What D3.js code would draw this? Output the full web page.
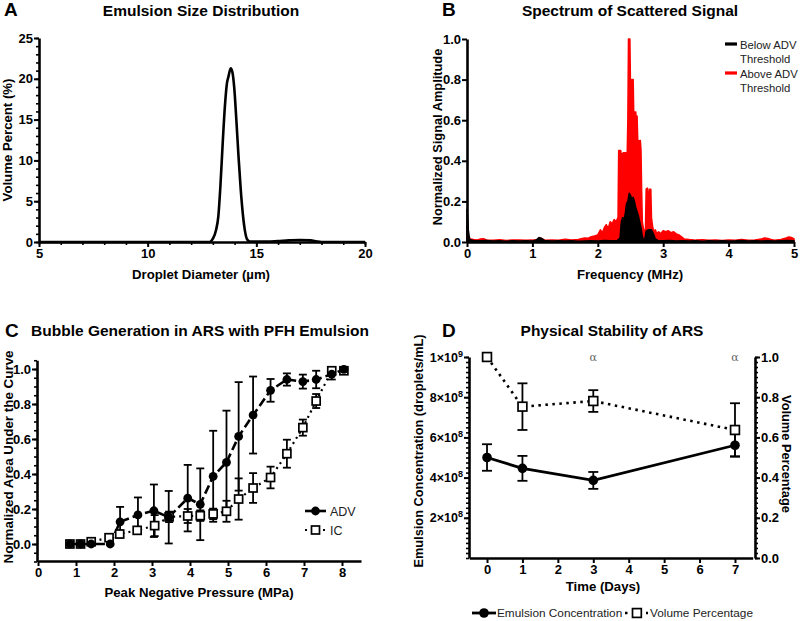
<!DOCTYPE html>
<html><head><meta charset="utf-8">
<script src="https://cdn.jsdelivr.net/npm/d3@7"></script>
<style>body{margin:0;background:#fff} svg{font-family:"Liberation Sans",Arial,Helvetica,sans-serif}</style>
</head><body><svg width="800" height="621"></svg>
<script>
// ---------- DATA ----------
// Panel A: emulsion size distribution
const sizeDiameter = [5,12.85,13.0,13.15,13.25,13.35,13.45,13.55,13.65,13.72,13.82,13.9,13.98,14.08,14.18,14.28,14.38,14.48,14.58,14.7,15.5,16.0,16.5,17.0,17.5,17.8,18.0,20];
const sizeVolume   = [0,0,0.4,1.5,3.1,7,12,16.5,19.5,20.3,21.3,20.8,19,15,10.5,6.5,3.4,1.3,0.3,0.05,0.05,0.12,0.2,0.25,0.2,0.05,0,0];
const sizeXTicks = [5,10,15,20];
const sizeYTicks = [0,5,10,15,20,25];

// Panel B: spectrum [frequency MHz, normalized amplitude]
const spectrumAbove = [[0,0.08],[0.02,0.03],[0.05,0.015],[0.1,0.012],[0.15,0.01],[0.2,0.014],[0.25,0.016],[0.3,0.01],[0.4,0.008],[0.5,0.011],[0.6,0.007],[0.7,0.01],[0.8,0.009],[0.9,0.008],[1.0,0.009],[1.08,0.012],[1.12,0.02],[1.16,0.014],[1.2,0.008],[1.3,0.01],[1.4,0.008],[1.5,0.013],[1.6,0.01],[1.7,0.012],[1.75,0.016],[1.8,0.02],[1.85,0.018],[1.9,0.026],[1.95,0.03],[2.0,0.035],[2.04,0.06],[2.07,0.045],[2.1,0.07],[2.13,0.085],[2.16,0.065],[2.19,0.1],[2.22,0.09],[2.25,0.11],[2.28,0.1],[2.31,0.12],[2.32,0.45],[2.35,0.45],[2.36,0.42],[2.37,0.43],[2.39,0.44],[2.41,0.44],[2.42,0.42],[2.43,0.44],[2.45,0.43],[2.46,0.6],[2.47,1.0],[2.49,1.0],[2.5,0.75],[2.51,0.78],[2.52,0.8],[2.54,0.8],[2.55,0.62],[2.56,0.64],[2.58,0.64],[2.59,0.55],[2.6,0.62],[2.61,0.5],[2.63,0.5],[2.64,0.49],[2.65,0.5],[2.66,0.45],[2.67,0.25],[2.68,0.1],[2.7,0.06],[2.72,0.05],[2.73,0.07],[2.74,0.26],[2.76,0.265],[2.77,0.18],[2.78,0.22],[2.79,0.26],[2.81,0.26],[2.82,0.12],[2.84,0.07],[2.86,0.05],[2.88,0.06],[2.9,0.04],[2.93,0.05],[2.96,0.04],[3.0,0.055],[3.04,0.05],[3.08,0.055],[3.12,0.045],[3.16,0.05],[3.2,0.04],[3.24,0.035],[3.28,0.025],[3.32,0.015],[3.4,0.012],[3.5,0.009],[3.6,0.011],[3.7,0.008],[3.8,0.01],[3.9,0.007],[4.0,0.009],[4.1,0.008],[4.2,0.012],[4.3,0.008],[4.4,0.01],[4.5,0.014],[4.55,0.02],[4.6,0.017],[4.65,0.012],[4.7,0.009],[4.8,0.012],[4.88,0.02],[4.92,0.025],[4.96,0.022],[5.0,0.015]];
const spectrumBelow = [[0,0.16],[0.01,0.12],[0.02,0.06],[0.04,0.012],[0.1,0.008],[0.2,0.006],[0.3,0.007],[0.4,0.005],[0.5,0.006],[0.6,0.004],[0.7,0.006],[0.8,0.005],[0.9,0.006],[1.0,0.005],[1.06,0.01],[1.1,0.022],[1.14,0.018],[1.18,0.008],[1.3,0.005],[1.4,0.006],[1.5,0.005],[1.6,0.006],[1.7,0.004],[1.8,0.005],[1.9,0.006],[2.0,0.005],[2.1,0.007],[2.2,0.006],[2.3,0.008],[2.34,0.02],[2.36,0.1],[2.38,0.12],[2.4,0.11],[2.42,0.14],[2.44,0.19],[2.46,0.2],[2.48,0.24],[2.5,0.23],[2.52,0.21],[2.54,0.22],[2.56,0.2],[2.58,0.17],[2.6,0.15],[2.62,0.13],[2.64,0.1],[2.66,0.07],[2.68,0.03],[2.7,0.01],[2.72,0.015],[2.74,0.055],[2.78,0.06],[2.82,0.06],[2.85,0.04],[2.88,0.015],[2.92,0.008],[3.0,0.006],[3.1,0.007],[3.2,0.005],[3.3,0.006],[3.4,0.005],[3.5,0.006],[3.6,0.004],[3.7,0.006],[3.8,0.005],[3.9,0.006],[4.0,0.005],[4.1,0.006],[4.2,0.008],[4.3,0.005],[4.4,0.006],[4.5,0.005],[4.6,0.006],[4.7,0.005],[4.8,0.006],[4.9,0.007],[5.0,0.006]];
const spectrumXTicks = [0,1,2,3,4,5];
const spectrumYTicks = [0,0.2,0.4,0.6,0.8,1.0];
const spectrumLegend = [["Below ADV","Threshold"],["Above ADV","Threshold"]];

// Panel C: bubble generation
const advPressure = [0.84,1.12,1.4,1.9,2.16,2.63,3.05,3.44,3.94,4.27,4.61,4.96,5.28,5.66,6.12,6.55,6.97,7.32,7.73,8.05];
const advArea     = [0,0,0,0,0.127,0.166,0.19,0.153,0.262,0.227,0.387,0.467,0.615,0.737,0.878,0.94,0.928,0.94,0.97,0.998];
const advErr      = [0,0,0,0,0.085,0.1,0.15,0.15,0.19,0.205,0.26,0.295,0.31,0.22,0.065,0.035,0.04,0.05,0.03,0.01];
const icPressure  = [0.84,1.12,1.4,1.87,2.15,2.61,3.07,3.45,3.94,4.27,4.61,4.96,5.28,5.66,6.12,6.55,6.97,7.32,7.73,8.05];
const icArea      = [0,0,0.013,0.036,0.057,0.078,0.105,0.155,0.16,0.162,0.172,0.187,0.257,0.32,0.38,0.516,0.665,0.817,0.99,0.99];
const icErr       = [0,0,0.005,0.01,0.02,0.02,0.06,0.03,0.04,0.03,0.03,0.06,0.118,0.085,0.062,0.08,0.046,0.04,0.01,0.01];
const bubbleXTicks = [0,1,2,3,4,5,6,7,8];
const bubbleYTicks = [0,0.2,0.4,0.6,0.8,1.0];

// Panel D: physical stability
const stabilityDays = [0,1,3,7];
const concentration = [5.0e8,4.46e8,3.86e8,5.61e8];
const concentrationErr = [0.66e8,0.62e8,0.42e8,0.55e8];
const volumePct = [1.0,0.753,0.781,0.637];
const volumePctErr = [0,0.116,0.054,0.133];
const alphaDays = [3,7];
const stabilityXTicks = [0,1,2,3,4,5,6,7];
const concTicks = [2e8,4e8,6e8,8e8,1e9];
const volTicks = [0,0.2,0.4,0.6,0.8,1.0];

// ---------- DRAWING ----------
const svg = d3.select("svg");
const AXW = 2.6;
const TICKFS = 13;

function styleAxis(g, fs){
  g.select(".domain").attr("stroke","#000").attr("stroke-width",AXW);
  g.selectAll(".tick line").attr("stroke","#000").attr("stroke-width",2);
  g.selectAll(".tick text").attr("fill","#000").attr("font-weight","bold").attr("font-size",fs||TICKFS)
    .attr("font-family",'"Liberation Sans",Arial,sans-serif');
}
function axis(gen, scale, tr, major, fmt, minor, opts={}){
  const g = svg.append("g").attr("transform", tr);
  if (minor){
    const m = g.append("g").call(gen(scale).tickValues(minor).tickSize(opts.minorSize||3).tickFormat("").tickSizeOuter(0));
    m.select(".domain").remove();
    m.selectAll(".tick line").attr("stroke","#000").attr("stroke-width",1.6);
  }
  const a = g.append("g").call(gen(scale).tickValues(major).tickSize(opts.size||5).tickPadding(opts.pad==null?2:opts.pad).tickFormat(fmt).tickSizeOuter(0));
  styleAxis(a, opts.fs);
  return a;
}
function text(x,y,s,o={}){
  const t = svg.append("text").attr("x",x).attr("y",y).text(s)
    .attr("font-size",o.fs||12).attr("font-weight",o.fw||"bold").attr("fill",o.fill||"#000")
    .attr("text-anchor",o.anchor||"middle");
  if (o.rot!=null) t.attr("transform",`rotate(${o.rot},${x},${y})`);
  if (o.family) t.attr("font-family",o.family);
  return t;
}
const f1 = d3.format(".1f");
const TITLEFS = 15.5, LABFS = 13.2;

// ===== Panel A =====
{
  const x = d3.scaleLinear().domain([5,20]).range([39,365]);
  const y = d3.scaleLinear().domain([0,25]).range([242,38]);
  axis(d3.axisBottom, x, "translate(0,242)", sizeXTicks, d3.format("d"), d3.range(5,21,1), {size:5});
  axis(d3.axisLeft, y, "translate(39,0)", sizeYTicks, d3.format("d"), d3.range(0,26,1), {size:5,pad:1});
  const pts = sizeDiameter.map((d,i)=>[d,sizeVolume[i]]);
  svg.append("path").datum(pts).attr("fill","none").attr("stroke","#000").attr("stroke-width",2.6)
    .attr("stroke-linejoin","round")
    .attr("d", d3.line().x(d=>x(d[0])).y(d=>y(d[1])).curve(d3.curveMonotoneX));
  text(4,16,"A",{fs:19,anchor:"start"});
  text(201,16,"Emulsion Size Distribution",{fs:TITLEFS});
  text(201,279,"Droplet Diameter (µm)",{fs:LABFS});
  text(12,140,"Volume Percent (%)",{fs:LABFS,rot:-90});
}

// ===== Panel B =====
{
  const x = d3.scaleLinear().domain([0,5]).range([467,794]);
  const y = d3.scaleLinear().domain([0,1]).range([242,39]);
  const area = d3.area().x(d=>x(d[0])).y0(y(0)).y1(d=>y(d[1]));
  svg.append("path").datum(spectrumAbove).attr("fill","#ff0000").attr("stroke","#ff0000").attr("stroke-width",1.6)
    .attr("stroke-linejoin","round").attr("d",area);
  svg.append("path").datum(spectrumBelow).attr("fill","#000").attr("stroke","#000").attr("stroke-width",1.5)
    .attr("stroke-linejoin","round").attr("d",area);
  axis(d3.axisBottom, x, "translate(0,242)", spectrumXTicks, d3.format("d"), null, {size:5});
  axis(d3.axisLeft, y, "translate(467,0)", spectrumYTicks, f1, null, {size:5,pad:1});
  text(442,16,"B",{fs:19,anchor:"start"});
  text(630,16,"Spectrum of Scattered Signal",{fs:TITLEFS});
  text(630,279,"Frequency (MHz)",{fs:LABFS});
  text(442,137,"Normalized Signal Amplitude",{fs:12.8,rot:-90});
  const colors = ["#000","#ff0000"];
  spectrumLegend.forEach((lbl,i)=>{
    const yy = 44 + i*29;
    svg.append("line").attr("x1",725).attr("x2",737).attr("y1",yy).attr("y2",yy).attr("stroke",colors[i]).attr("stroke-width",3.2);
    text(740,yy+4.5,lbl[0],{fs:11.3,fw:"normal",anchor:"start",fill:"#222"});
    text(740,yy+19,lbl[1],{fs:11.3,fw:"normal",anchor:"start",fill:"#222"});
  });
}

// ===== Panel C =====
{
  const x = d3.scaleLinear().domain([0,8.5]).range([38,361]);
  const y = d3.scaleLinear().domain([-0.1,1.05]).range([561.5,360.25]);
  axis(d3.axisBottom, x, "translate(0,561)", bubbleXTicks, d3.format("d"), null, {size:5});
  axis(d3.axisLeft, y, "translate(37,0)", bubbleYTicks, f1, d3.range(-0.1,1.051,0.05).map(v=>+v.toFixed(2)), {size:5,pad:1});
  const adv = advPressure.map((p,i)=>({p,v:advArea[i],e:advErr[i]}));
  const ic = icPressure.map((p,i)=>({p,v:icArea[i],e:icErr[i]}));
  const line = d3.line().x(d=>x(d.p)).y(d=>y(d.v));
  function errs(data){
    const g = svg.append("g").attr("stroke","#000").attr("stroke-width",1.8);
    data.filter(d=>d.e>0.012).forEach(d=>{
      const cx=x(d.p);
      g.append("line").attr("x1",cx).attr("x2",cx).attr("y1",y(d.v-d.e)).attr("y2",y(d.v+d.e));
      g.append("line").attr("x1",cx-4).attr("x2",cx+4).attr("y1",y(d.v-d.e)).attr("y2",y(d.v-d.e));
      g.append("line").attr("x1",cx-4).attr("x2",cx+4).attr("y1",y(d.v+d.e)).attr("y2",y(d.v+d.e));
    });
  }
  errs(ic);
  errs(adv);
  svg.append("path").datum(ic).attr("fill","none").attr("stroke","#000").attr("stroke-width",2.2)
    .attr("stroke-dasharray","2,4").attr("d",line);
  svg.append("path").datum(adv).attr("fill","none").attr("stroke","#000").attr("stroke-width",2.6)
    .attr("stroke-dasharray","9,4").attr("d",line);
  svg.append("g").selectAll("rect").data(ic).join("rect")
    .attr("x",d=>x(d.p)-4).attr("y",d=>y(d.v)-4).attr("width",8).attr("height",8)
    .attr("fill","#fff").attr("stroke","#000").attr("stroke-width",1.7);
  svg.append("g").selectAll("circle").data(adv).join("circle")
    .attr("cx",d=>x(d.p)).attr("cy",d=>y(d.v)).attr("r",4.4).attr("fill","#000");
  // legend
  svg.append("line").attr("x1",305).attr("x2",326).attr("y1",511).attr("y2",511).attr("stroke","#000").attr("stroke-width",2.6);
  svg.append("circle").attr("cx",315.5).attr("cy",511).attr("r",4.4).attr("fill","#000");
  text(330,515.5,"ADV",{fs:12.5,fw:"normal",anchor:"start",fill:"#222"});
  svg.append("line").attr("x1",305).attr("x2",326).attr("y1",530).attr("y2",530).attr("stroke","#000").attr("stroke-width",2.2).attr("stroke-dasharray","2,4");
  svg.append("rect").attr("x",311.5).attr("y",526).attr("width",8).attr("height",8).attr("fill","#fff").attr("stroke","#000").attr("stroke-width",1.7);
  text(330,534.5,"IC",{fs:12.5,fw:"normal",anchor:"start",fill:"#222"});
  text(5,337,"C",{fs:19,anchor:"start"});
  text(200,336,"Bubble Generation in ARS with PFH Emulsion",{fs:TITLEFS});
  text(199,597,"Peak Negative Pressure (MPa)",{fs:LABFS});
  text(13,457,"Normalized Area Under the Curve",{fs:13.4,rot:-90});
}

// ===== Panel D =====
{
  const x = d3.scaleLinear().domain([-0.5,7.5]).range([469.3,752.7]);
  const yL = d3.scaleLinear().domain([0,1e9]).range([558,357]);
  const yR = d3.scaleLinear().domain([0,1]).range([558,357]);
  axis(d3.axisBottom, x, "translate(0,558)", stabilityXTicks, d3.format("d"), null, {size:5});
  const la = axis(d3.axisLeft, yL, "translate(469,0)", concTicks, ()=>"", d3.range(0,1.0001e9,2.5e7), {size:5,pad:1,minorSize:3});
  la.selectAll(".tick text").each(function(d){
    const t = d3.select(this);
    const exp = Math.floor(Math.log10(d));
    const man = Math.round(d/Math.pow(10,exp));
    t.append("tspan").text(man+"×10");
    t.append("tspan").attr("dy",-5).attr("font-size",9).text(exp);
  }).attr("font-size",12.5);
  axis(d3.axisRight, yR, "translate(755,0)", volTicks, f1, d3.range(0,1.0001,0.025).map(v=>+v.toFixed(3)), {size:5,pad:1,minorSize:3});
  const vol = stabilityDays.map((d,i)=>({d,v:volumePct[i],e:volumePctErr[i]}));
  const conc = stabilityDays.map((d,i)=>({d,v:concentration[i],e:concentrationErr[i]}));
  function errs(data, ys){
    const g = svg.append("g").attr("stroke","#000").attr("stroke-width",1.8);
    data.filter(d=>d.e>0).forEach(d=>{
      const cx=x(d.d);
      g.append("line").attr("x1",cx).attr("x2",cx).attr("y1",ys(d.v-d.e)).attr("y2",ys(d.v+d.e));
      g.append("line").attr("x1",cx-5).attr("x2",cx+5).attr("y1",ys(d.v-d.e)).attr("y2",ys(d.v-d.e));
      g.append("line").attr("x1",cx-5).attr("x2",cx+5).attr("y1",ys(d.v+d.e)).attr("y2",ys(d.v+d.e));
    });
  }
  errs(vol, yR);
  errs(conc, yL);
  svg.append("path").datum(vol).attr("fill","none").attr("stroke","#000").attr("stroke-width",2.6)
    .attr("stroke-dasharray","2.5,4.5").attr("d",d3.line().x(d=>x(d.d)).y(d=>yR(d.v)));
  svg.append("path").datum(conc).attr("fill","none").attr("stroke","#000").attr("stroke-width",2.8)
    .attr("d",d3.line().x(d=>x(d.d)).y(d=>yL(d.v)));
  svg.append("g").selectAll("rect").data(vol).join("rect")
    .attr("x",d=>x(d.d)-4.4).attr("y",d=>yR(d.v)-4.4).attr("width",8.8).attr("height",8.8)
    .attr("fill","#fff").attr("stroke","#000").attr("stroke-width",1.7);
  svg.append("g").selectAll("circle").data(conc).join("circle")
    .attr("cx",d=>x(d.d)).attr("cy",d=>yL(d.v)).attr("r",4.8).attr("fill","#000");
  alphaDays.forEach(d=>text(x(d),360.5,"α",{fs:11,fw:"normal",fill:"#666",family:"DejaVu Serif, serif"}));
  text(442,337,"D",{fs:19,anchor:"start"});
  text(612,336,"Physical Stability of ARS",{fs:TITLEFS});
  text(603,591,"Time (Days)",{fs:LABFS});
  text(423,451,"Emulsion Concentration (droplets/mL)",{fs:12.8,rot:-90});
  text(782,454,"Volume Percentage",{fs:12.8,rot:90});
  // legend
  svg.append("line").attr("x1",472).attr("x2",496).attr("y1",613).attr("y2",613).attr("stroke","#000").attr("stroke-width",2.8);
  svg.append("circle").attr("cx",484).attr("cy",613).attr("r",4.8).attr("fill","#000");
  text(497,617,"Emulsion Concentration",{fs:11.8,fw:"normal",anchor:"start",fill:"#222"});
  svg.append("line").attr("x1",625).attr("x2",648).attr("y1",613).attr("y2",613).attr("stroke","#000").attr("stroke-width",2.6).attr("stroke-dasharray","2.5,4.5");
  svg.append("rect").attr("x",632.5).attr("y",608.6).attr("width",8.8).attr("height",8.8).attr("fill","#fff").attr("stroke","#000").attr("stroke-width",1.7);
  text(650,617,"Volume Percentage",{fs:11.8,fw:"normal",anchor:"start",fill:"#222"});
}
</script></body></html>
